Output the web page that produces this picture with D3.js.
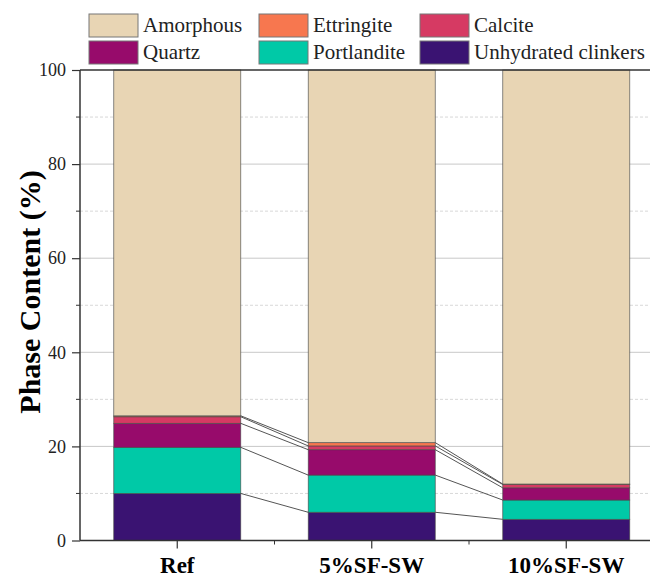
<!DOCTYPE html>
<html>
<head>
<meta charset="utf-8">
<script src="https://cdn.jsdelivr.net/npm/d3@7"></script>
<style>
  body { margin: 0; background: #fff; }
  svg { display: block; font-family: "Liberation Serif", "Times New Roman", serif; }
</style>
</head>
<body>
<svg id="chart" width="650" height="578"></svg>
<script>
// values (wt.%)
const categories = ['Ref', '5%SF-SW', '10%SF-SW'];
const unhydrated = [10.0, 6.0, 4.5];
const portlandite = [9.8, 7.9, 4.1];
const quartz = [5.1, 5.4, 2.6];
const calcite = [1.4, 0.8, 0.7];
const ettringite = [0.2, 0.7, 0.1];
const amorphous = [73.5, 79.2, 88.0];

const phases = ['Unhydrated clinkers', 'Portlandite', 'Quartz', 'Calcite', 'Ettringite', 'Amorphous'];
const phaseValues = [unhydrated, portlandite, quartz, calcite, ettringite, amorphous];
const colors = ['#3a1372', '#00c9a7', '#970b6b', '#d63a63', '#f7774f', '#e8d5b4'];
const legendOrder = ['Amorphous', 'Ettringite', 'Calcite', 'Quartz', 'Portlandite', 'Unhydrated clinkers'];
const yTicks = [0, 20, 40, 60, 80, 100];
const yMinor = [10, 30, 50, 70, 90];

const rows = categories.map((c, i) => {
    const r = { cat: c };
    phases.forEach((p, j) => r[p] = phaseValues[j][i]);
    return r;
});

const svg = d3.select('#chart');
const plotLeft = 80, plotTop = 70, plotBottom = 540.5;
const step = 194.5;

const x = d3.scaleBand()
    .domain(categories)
    .range([plotLeft, plotLeft + step * categories.length])
    .paddingInner(0.347)
    .paddingOuter(0.1735);
const y = d3.scaleLinear().domain([0, 100]).range([plotBottom, plotTop]);
const color = d3.scaleOrdinal().domain(phases).range(colors);

const stacked = d3.stack().keys(phases)(rows);

// grid
svg.append('g').selectAll('line')
    .data(yTicks.filter(t => t > 0 && t < 100))
    .join('line')
    .attr('x1', plotLeft).attr('x2', 650)
    .attr('y1', d => y(d)).attr('y2', d => y(d))
    .attr('stroke', '#c8c8c8').attr('stroke-width', 1);
svg.append('g').selectAll('line')
    .data(yMinor)
    .join('line')
    .attr('x1', plotLeft).attr('x2', 650)
    .attr('y1', d => y(d)).attr('y2', d => y(d))
    .attr('stroke', '#d8d8d8').attr('stroke-width', 1)
    .attr('stroke-dasharray', '3,2');

// bars
svg.append('g').selectAll('g')
    .data(stacked)
    .join('g')
    .attr('fill', d => color(d.key))
    .selectAll('rect')
    .data(d => d)
    .join('rect')
    .attr('x', d => x(d.data.cat))
    .attr('y', d => y(d[1]))
    .attr('width', x.bandwidth())
    .attr('height', d => y(d[0]) - y(d[1]))
    .attr('stroke', '#4a4a4a')
    .attr('stroke-width', 0.8)
    .attr('stroke-opacity', 0.8);

// connecting lines between layer tops
const links = [];
stacked.slice(0, -1).forEach(s => {
    for (let i = 0; i < categories.length - 1; i++) {
        links.push({ a: s[i], b: s[i + 1] });
    }
});
svg.append('g').selectAll('line')
    .data(links)
    .join('line')
    .attr('x1', d => x(d.a.data.cat) + x.bandwidth())
    .attr('y1', d => y(d.a[1]))
    .attr('x2', d => x(d.b.data.cat))
    .attr('y2', d => y(d.b[1]))
    .attr('stroke', '#555')
    .attr('stroke-width', 1);

// axes
const yAxis = svg.append('g')
    .attr('transform', `translate(${plotLeft},0)`)
    .call(d3.axisLeft(y).tickValues(yTicks).tickSize(8).tickPadding(6));
yAxis.append('g').selectAll('line')
    .data(yMinor)
    .join('line')
    .attr('x1', -4).attr('x2', 0)
    .attr('y1', d => y(d)).attr('y2', d => y(d))
    .attr('stroke', '#333');

const xAxis = svg.append('g')
    .attr('transform', `translate(0,${plotBottom})`)
    .call(d3.axisBottom(x).tickSize(8).tickPadding(8));
xAxis.append('g').selectAll('line')
    .data(categories.slice(1))
    .join('line')
    .attr('x1', d => x(d) - x.step() * x.paddingInner() / 2)
    .attr('x2', d => x(d) - x.step() * x.paddingInner() / 2)
    .attr('y1', 0).attr('y2', 4)
    .attr('stroke', '#333');

[yAxis, xAxis].forEach(a => {
    a.select('.domain').attr('stroke', '#333').attr('stroke-width', 1.5);
    a.selectAll('.tick line').attr('stroke', '#333').attr('stroke-width', 1.2);
});
yAxis.select('.domain').attr('d', `M0,${plotBottom}V${plotTop}`);
xAxis.select('.domain').attr('d', `M${plotLeft},0H650`);
yAxis.selectAll('.tick text')
    .attr('font-size', 18).attr('font-family', '"Liberation Serif", serif').attr('fill', '#222');
xAxis.selectAll('.tick text')
    .attr('font-size', 23).attr('font-weight', 'bold').attr('font-family', '"Liberation Serif", serif').attr('fill', '#000');

// top border
svg.append('line')
    .attr('x1', plotLeft).attr('x2', 650)
    .attr('y1', plotTop).attr('y2', plotTop)
    .attr('stroke', '#333').attr('stroke-width', 1.5);

// y title
svg.append('text')
    .attr('transform', 'translate(40,292) rotate(-90)')
    .attr('text-anchor', 'middle')
    .attr('font-size', 30)
    .attr('font-weight', 'bold')
    .text('Phase Content (%)');

// legend
const legend = svg.append('g').selectAll('g')
    .data(legendOrder)
    .join('g')
    .attr('transform', (d, i) => `translate(${[89, 259, 420][i % 3]},${i < 3 ? 14 : 41})`);
legend.append('rect')
    .attr('width', 49).attr('height', 23)
    .attr('fill', d => color(d))
    .attr('stroke', '#777').attr('stroke-width', 1);
legend.append('text')
    .attr('x', 54).attr('y', 18)
    .attr('font-size', 21)
    .attr('fill', '#222')
    .text(d => d);
</script>
</body>
</html>
